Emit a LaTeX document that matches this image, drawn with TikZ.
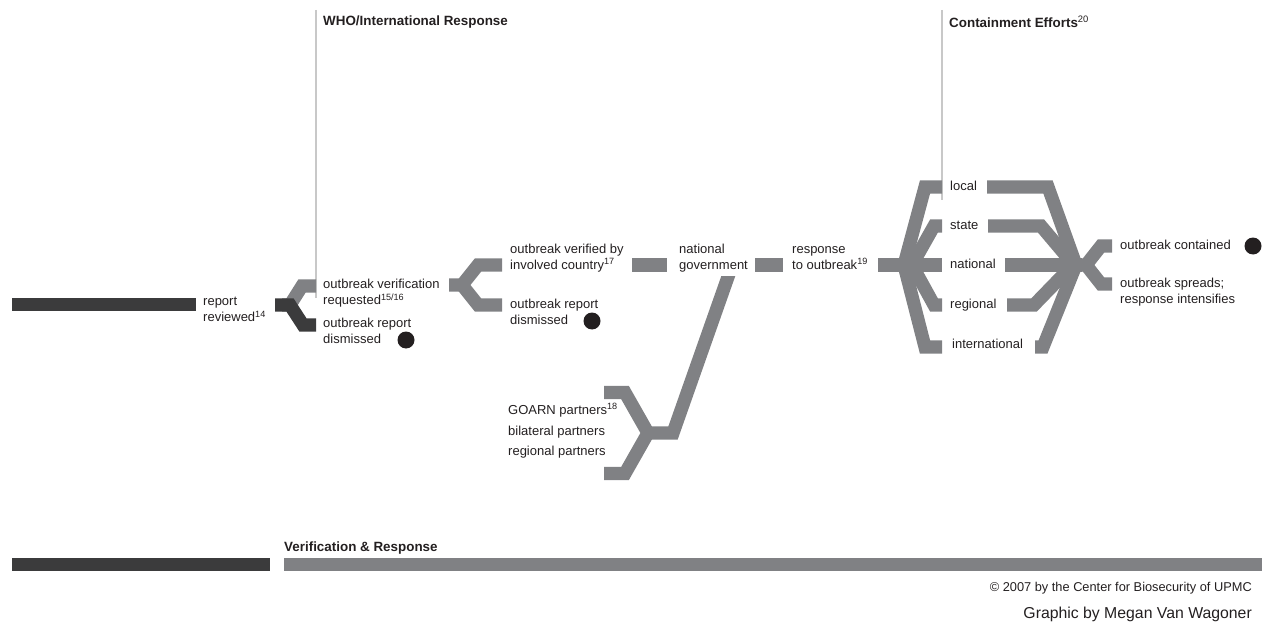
\documentclass[tikz,border=0pt]{standalone}
\usepackage{fontspec}
\setmainfont{Liberation Sans}
\definecolor{ink}{HTML}{231F20}
\definecolor{darkbar}{HTML}{3B3B3C}
\definecolor{graybar}{HTML}{808184}
\definecolor{rule}{HTML}{C8C8C8}
\begin{document}
\begin{tikzpicture}[x=1pt,y=-1pt,
  bar/.style={line width=13.2pt, line join=miter, miter limit=20, line cap=butt},
  dbar/.style={bar, draw=darkbar},
  gbar/.style={bar, draw=graybar},
  vrule/.style={draw=rule, line width=2pt},
  txt/.style={anchor=west, inner sep=0pt, align=left, text=ink, font=\fontsize{13}{16}\selectfont},
  head/.style={anchor=west, inner sep=0pt, text=ink, font=\fontsize{13.4}{16}\selectfont\bfseries},
  enddot/.style={circle, fill=ink, minimum size=17pt, inner sep=0pt}]
\useasboundingbox (0,0) rectangle (1262,623);

% ---------- text nodes ----------
\node[txt] (rr) at (203,310.5) {\strut report\\\strut reviewed\textsuperscript{14}};
\node[txt] (ovr) at (323,293.5) {\strut outbreak verification\\\strut requested\textsuperscript{15/16}};
\node[txt] (ord1) at (323,332) {\strut outbreak report\\\strut dismissed};
\node[enddot] (dot1) at (406,340) {};
\node[txt] (ovc) at (510,258) {\strut outbreak verified by\\\strut involved country\textsuperscript{17}};
\node[txt] (ord2) at (510,313) {\strut outbreak report\\\strut dismissed};
\node[enddot] (dot2) at (592,321) {};
\node[txt] (ng) at (679,258) {\strut national\\\strut government};
\node[txt] (rto) at (792,258) {\strut response\\\strut to outbreak\textsuperscript{19}};
\node[txt] (goarn) at (508,411) {\strut GOARN partners\textsuperscript{18}};
\node[txt] (bil) at (508,432) {\strut bilateral partners};
\node[txt] (regp) at (508,452) {\strut regional partners};
\node[txt] (loc) at (950,187) {\strut local};
\node[txt] (sta) at (950,226) {\strut state};
\node[txt] (nat) at (950,265) {\strut national};
\node[txt] (reg) at (950,305) {\strut regional};
\node[txt] (int) at (952,345) {\strut international};
\node[txt] (oc) at (1120,246) {\strut outbreak contained};
\node[enddot] (dot3) at (1253,246) {};
\node[txt] (os) at (1120,292.5) {\strut outbreak spreads;\\\strut response intensifies};
\node[head] (who) at (323,22) {WHO/International Response};
\node[head] (cont) at (949,22) {Containment Efforts\textsuperscript{\normalfont 20}};
\node[head] (vr) at (284,548) {Verification \& Response};
\node[anchor=east, inner sep=0pt, text=ink, font=\fontsize{12.8}{14}\selectfont] (copy) at (1252,588) {\textcopyright{} 2007 by the Center for Biosecurity of UPMC};
\node[anchor=east, inner sep=0pt, text=ink, font=\fontsize{15.8}{18}\selectfont] (graphic) at (1252,614) {Graphic by Megan Van Wagoner};

% ---------- vertical rules ----------
\coordinate (whoT) at (316,10);
\coordinate (whoB) at (316,298);
\coordinate (conT) at (942,10);
\coordinate (conB) at (942,200);
\draw[vrule] (whoT) -- (whoB);
\draw[vrule] (conT) -- (conB);

% ---------- first stage ----------
\coordinate (a0) at (12,304.5);
\coordinate (a1) at (196,304.5);
\draw[dbar] (a0) -- (a1);

\coordinate (f1s) at (275,305);
\coordinate (f1j) at (290,305);
\draw[gbar] (f1j) -- ++(-8,0) -- (f1j) -- (302,286) -- (316,286);
\draw[dbar] (f1s) -- (f1j) -- (303,325) -- (316,325);

% ---------- second fork ----------
\coordinate (f2s) at (449,285);
\coordinate (f2j) at (462,285);
\draw[gbar] (f2s) -- (f2j) -- (478,265) -- (502,265);
\draw[gbar] (f2j) -- (478,305) -- (502,305);

% ---------- dashes ----------
\draw[gbar] (632,265) -- (667,265);
\draw[gbar] (755,265) -- (783,265);

% ---------- GOARN fork and diagonal ----------
\coordinate (gj) at (648,433);
\coordinate (gk) at (673,433);
\begin{scope}
\clip (0,276) rectangle (1262,623);
\draw[gbar] (604,392.5) -- (625,392.5) -- (gj) -- (gk) -- (735,257);
\end{scope}
\draw[gbar] (gj) -- (625,473.5) -- (604,473.5);

% ---------- left containment fork ----------
\draw[gbar] (878,265) -- (942,265);
\draw[gbar] (942,187) -- (925,187) -- (904,265) -- (925,347) -- (942,347);
\draw[gbar] (942,226) -- (934,226) -- (912,265) -- (934,305) -- (942,305);

% ---------- right containment fork ----------
\draw[gbar] (987,187) -- (1048,187) -- (1076,265) -- (1043,347) -- (1035,347);
\draw[gbar] (988,226) -- (1041,226) -- (1068,258);
\draw[gbar] (1005,265) -- (1082,265);
\draw[gbar] (1007,305) -- (1034,305) -- (1066,272);
\draw[gbar] (1076,265) -- (1086,265) -- (1101,246) -- (1112,246);
\draw[gbar] (1086,265) -- (1101,284) -- (1112,284);

% ---------- bottom bars ----------
\draw[dbar] (12,564.5) -- (270,564.5);
\draw[gbar] (284,564.5) -- (1262,564.5);
\end{tikzpicture}
\end{document}
